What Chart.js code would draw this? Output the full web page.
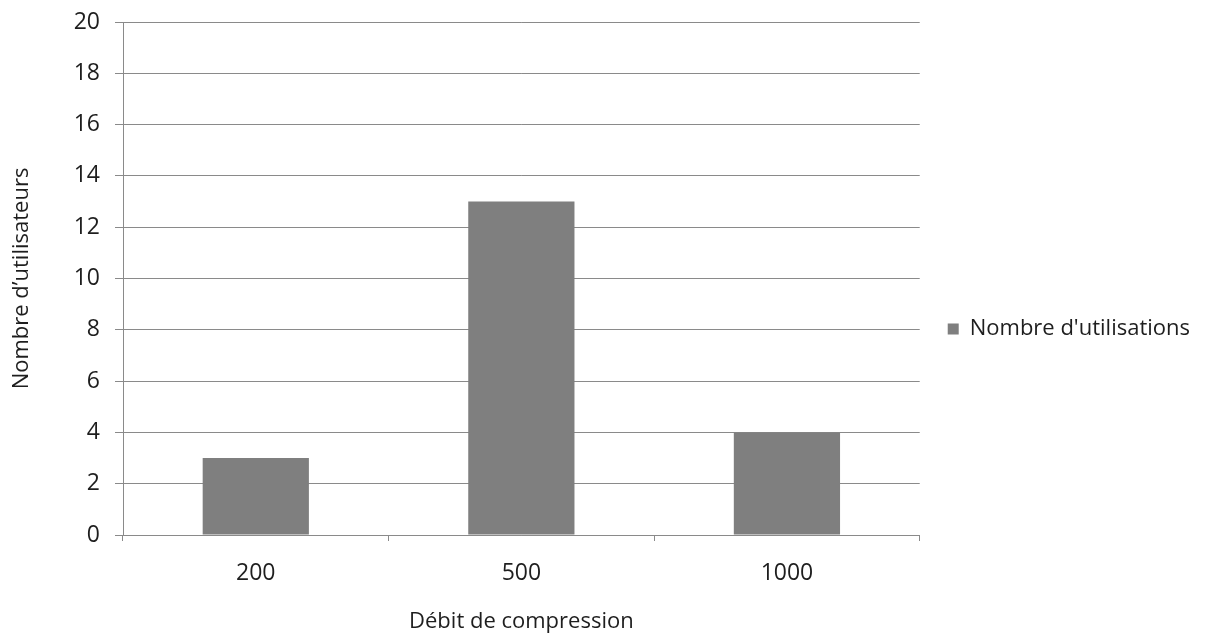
<!DOCTYPE html>
<html>
<head>
<meta charset="utf-8">
<script src="https://cdn.jsdelivr.net/npm/chart.js@4"></script>
<style>
  html, body { margin: 0; padding: 0; background: #fff; }
  #wrap { width: 1213px; height: 636px; }
</style>
</head>
<body>
<div id="wrap"><canvas id="thisIsTheBarChart" width="1213" height="636"></canvas></div>
<script>
// values
const categories = ['200', '500', '1000'];
const usageCounts = [3, 13, 4];
const seriesLabel = "Nombre d'utilisations";
const xTitle = 'Débit de compression';
const yTitle = 'Nombre d\u2019utilisateurs';

const fontFamily = '"Open Sans", "Noto Sans", sans-serif';
const tickFont = { family: fontFamily, size: 23 };
const titleFont = { family: fontFamily, size: 22 };
const textColor = '#1e1e1e';
const lineColor = '#8a8a8a';

const config = {
	type: 'bar',
	data: {
		labels: categories,
		datasets: [{
			label: seriesLabel,
			data: usageCounts,
			backgroundColor: '#7f7f7f',
			borderWidth: 0,
			barPercentage: 0.8,
			categoryPercentage: 0.5
		}]
	},
	options: {
		responsive: false,
		animation: false,
		layout: { padding: { top: 22, right: 13, left: 0, bottom: 0 } },
		plugins: {
			legend: {
				position: 'right',
				labels: {
					boxWidth: 11,
					boxHeight: 11,
					padding: 28,
					color: textColor,
					font: titleFont
				}
			},
			tooltip: { enabled: false }
		},
		scales: {
			x: {
				afterFit: (scale) => { scale.height = 101; },
				grid: {
					offset: true,
					drawOnChartArea: false,
					color: lineColor,
					tickLength: 6
				},
				border: { color: lineColor },
				ticks: { color: textColor, font: tickFont, padding: 19 },
				title: {
					display: true,
					text: xTitle,
					color: textColor,
					font: titleFont,
					padding: { top: 0, bottom: 1 }
				}
			},
			y: {
				min: 0,
				max: 20,
				afterFit: (scale) => {
					scale.width = 123;
					scale.paddingTop = 0;
					scale.paddingBottom = 0;
				},
				ticks: { stepSize: 2, color: textColor, font: tickFont, padding: 15 },
				grid: { color: lineColor, tickLength: 8 },
				border: { color: lineColor },
				title: {
					display: true,
					text: yTitle,
					color: textColor,
					font: titleFont,
					padding: { top: 9, bottom: 0 }
				}
			}
		}
	}
};

const ctx = document.getElementById('thisIsTheBarChart').getContext('2d');
new Chart(ctx, config);
</script>
</body>
</html>
